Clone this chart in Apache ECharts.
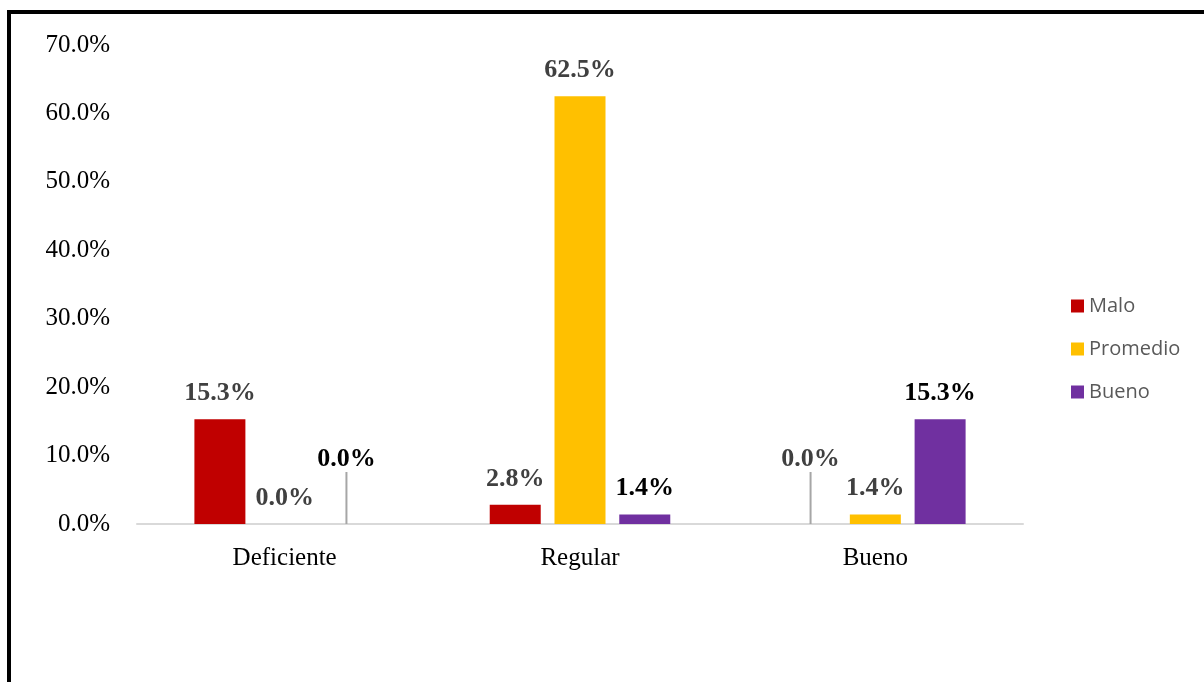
<!DOCTYPE html>
<html>
<head>
<meta charset="utf-8">
<script src="https://cdn.jsdelivr.net/npm/echarts@6/dist/echarts.min.js"></script>
<style>
  html, body { margin: 0; padding: 0; background: #fff; }
  #chart { width: 1204px; height: 682px; }
</style>
</head>
<body>
<div id="chart"></div>
<script>
// categorias y valores (%)
var categories = ['Deficiente', 'Regular', 'Bueno'];
var seriesNames = ['Malo', 'Promedio', 'Bueno'];
var malo = [15.3, 2.8, 0.0];
var promedio = [0.0, 62.5, 1.4];
var bueno = [0.0, 1.4, 15.3];
var colors = ['#C00000', '#FFC000', '#7030A0'];
var labelColors = ['#404040', '#404040', '#000000'];
// etiquetas de 0.0% levantadas con linea guia: [serie, categoria]
var liftedLabels = [[0, 2], [2, 0]];

var chart = echarts.init(document.getElementById('chart'));

function isLifted(k, i) {
  return liftedLabels.some(function (p) { return p[0] === k && p[1] === i; });
}

var allData = [malo, promedio, bueno];

var series = seriesNames.map(function (name, k) {
  return {
    name: name,
    type: 'bar',
    barWidth: 51,
    barGap: '27%',
    itemStyle: { color: colors[k] },
    label: {
      show: true,
      position: 'top',
      distance: 13,
      fontFamily: 'Liberation Serif',
      fontWeight: 'bold',
      fontSize: 26,
      color: labelColors[k],
      formatter: function (p) { return p.value.toFixed(1) + '%'; }
    },
    labelLayout: function (p) {
      if (isLifted(k, p.dataIndex)) return { dy: -39, dx: k === 2 ? -3 : 0 };
      return {};
    },
    labelLine: { show: false },
    data: allData[k].map(function (v, i) {
      if (!isLifted(k, i)) return v;
      return {
        value: v,
        labelLine: { show: true, lineStyle: { color: '#a6a6a6', width: 2 } }
      };
    })
  };
});

var option = {
  animation: false,
  color: colors,
  graphic: [{
    type: 'polyline',
    shape: { points: [[9, 682], [9, 12], [1204, 12]] },
    style: { stroke: '#000', lineWidth: 4, fill: null }
  }],
  legend: {
    orient: 'vertical',
    left: 1066,
    top: 291,
    itemWidth: 13,
    itemHeight: 13,
    itemGap: 23,
    icon: 'rect',
    textStyle: { fontFamily: 'Open Sans', fontSize: 20, color: '#595959' },
    data: seriesNames
  },
  grid: { left: 137, right: 181, top: 45, bottom: 158, containLabel: false },
  xAxis: {
    type: 'category',
    data: categories,
    axisLine: { lineStyle: { color: '#d9d9d9', width: 2 } },
    axisTick: { show: false },
    axisLabel: { fontFamily: 'Liberation Serif', fontSize: 25, color: '#000', margin: 22 }
  },
  yAxis: {
    type: 'value',
    min: 0,
    max: 70,
    interval: 10,
    splitLine: { show: false },
    axisLine: { show: false },
    axisTick: { show: false },
    axisLabel: {
      fontFamily: 'Liberation Serif',
      fontSize: 25,
      color: '#000',
      margin: 27,
      formatter: function (v) { return v.toFixed(1) + '%'; }
    }
  },
  series: series
};

chart.setOption(option);
</script>
</body>
</html>
